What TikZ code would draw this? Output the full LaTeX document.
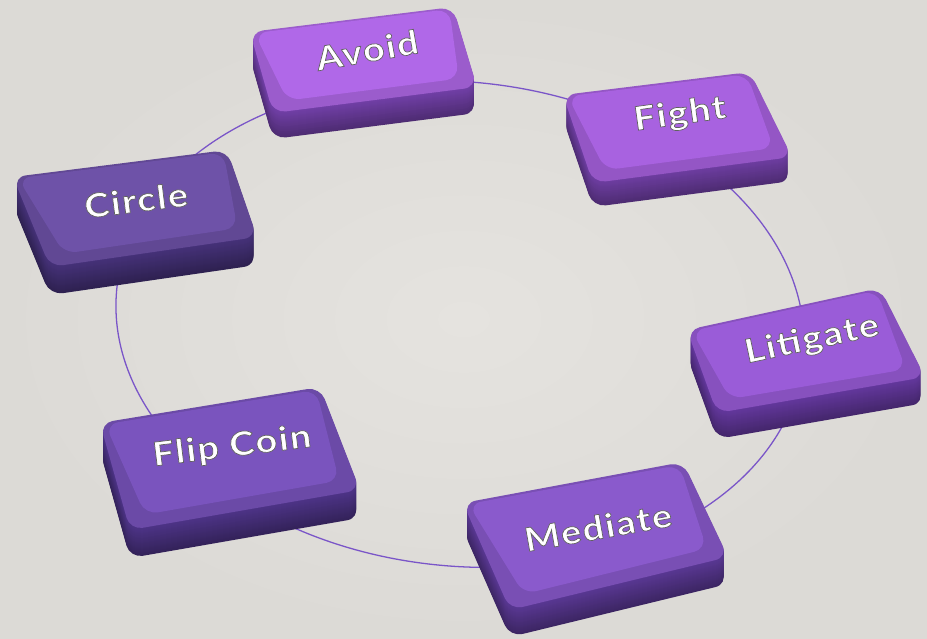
\documentclass[tikz,border=0pt]{standalone}
\usepackage{fontspec}
\newfontfamily\capfont[LetterSpace=5, FakeStretch=1.15]{Lato}
\usetikzlibrary{calc}
\definecolor{bgedge}{HTML}{DCDAD6}
\definecolor{bgmid}{HTML}{E5E3DF}
\definecolor{ringpurple}{HTML}{7A55C8}
\definecolor{avoidtop}{HTML}{B068E8}
\definecolor{avoidside}{HTML}{7240A8}
\definecolor{fighttop}{HTML}{A862E0}
\definecolor{fightside}{HTML}{6E3EA2}
\definecolor{circletop}{HTML}{6E52A8}
\definecolor{circleside}{HTML}{46327A}
\definecolor{littop}{HTML}{9A5CD8}
\definecolor{litside}{HTML}{64389E}
\definecolor{medtop}{HTML}{8A5ACC}
\definecolor{medside}{HTML}{5A3894}
\definecolor{fliptop}{HTML}{7A54BE}
\definecolor{flipside}{HTML}{4E3488}
% white letters with a grey rim
\newcommand{\emboss}[1]{\special{pdf:literal direct 2 Tr 0.6 w 0.38 0.38 0.38 RG}#1\special{pdf:literal direct 0 Tr}}
\tikzset{
  ring/.style   ={draw=ringpurple, line width=1.1pt},
  keytop/.style ={rounded corners=11pt},
  caplbl/.style ={font=\capfont\bfseries\fontsize{28}{28}\selectfont, text=white, inner sep=0pt},
}
% #1-#4 corners from top left, clockwise; #5 depth; #6 top colour; #7 side colour
\newcommand{\keycap}[7]{%
  \foreach \s in {#5,...,1}{
    \pgfmathtruncatemacro{\dk}{100-1.2*\s}
    \fill[keytop, #7!\dk!black, shift={(0,\s)}] #1 -- #2 -- #3 -- #4 -- cycle;
  }
  \fill[keytop, #6!88!black] #1 -- #2 -- #3 -- #4 -- cycle;
  \fill[keytop, #6] ($#1!0.02!#3$) -- ($#2!0.02!#4$)
    -- ($#3!0.08!#1+(0,-4)$) -- ($#4!0.08!#2+(0,-4)$) -- cycle;
}

\begin{document}
\begin{tikzpicture}[x=0.03cm, y=-0.03cm]
  \useasboundingbox (0,0) rectangle (927,638);
  \shade[inner color=bgmid, outer color=bgedge] (0,0) rectangle (927,638);

  % the ring behind the keys
  \draw[ring, rotate around={-6:(460,324)}] (460,324) ellipse [x radius=345, y radius=242];

  % keys
  \keycap{(250,32)}{(453,7)}{(477,87)}{(273,113)}{26}{avoidtop}{avoidside}
  \keycap{(563,95)}{(750,72)}{(792,157)}{(593,183)}{24}{fighttop}{fightside}
  \keycap{(13,177)}{(227,150)}{(257,237)}{(50,267)}{28}{circletop}{circleside}
  \keycap{(687,330)}{(880,288)}{(925,377)}{(717,413)}{26}{littop}{litside}
  \keycap{(463,503)}{(683,462)}{(728,557)}{(510,610)}{27}{medtop}{medside}
  \keycap{(100,423)}{(320,387)}{(360,490)}{(130,530)}{28}{fliptop}{flipside}

  % labels
  \node[caplbl, rotate=10] (avoid)    at (367,50)  {\emboss{Avoid}};
  \node[caplbl, rotate=8]  (fight)    at (680,115) {\emboss{Fight}};
  \node[caplbl, rotate=7]  (circle)   at (136,200) {\emboss{Circle}};
  \node[caplbl, rotate=12] (litigate) at (812,340) {\emboss{Litigate}};
  \node[caplbl, rotate=10] (mediate)  at (598,527) {\emboss{Mediate}};
  \node[caplbl, rotate=7]  (flipcoin) at (232,447) {\emboss{Flip Coin}};
\end{tikzpicture}
\end{document}
